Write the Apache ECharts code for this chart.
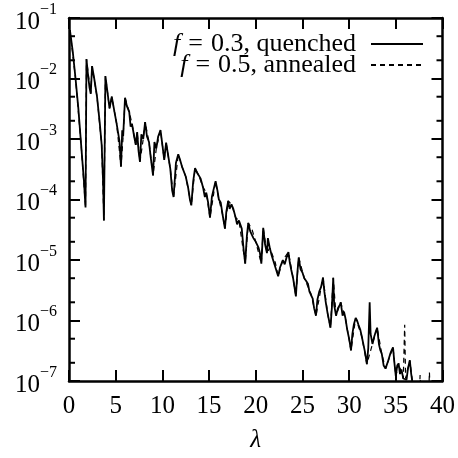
<!DOCTYPE html>
<html>
<head>
<meta charset="utf-8">
<script src="https://cdn.jsdelivr.net/npm/echarts@6/dist/echarts.min.js"></script>
<style>
  html, body {margin: 0; padding: 0; background: #fff;}
  #chart {width: 458px; height: 458px;}
</style>
</head>
<body>
<div id="chart"></div>
<script>
// DATA
const series_names = ["f = 0.3, quenched", "f = 0.5, annealed"];

// [lambda, value]
const quenched_points = [
  [0.1, 6.3e-2], [0.4, 2.8e-2], [0.7, 1.0e-2], [1.0, 3.2e-3], [1.3, 8.0e-4], [1.6, 2.0e-4],
  [1.77, 7.4e-5], [1.87, 2.1e-2], [2.05, 1.1e-2], [2.2, 7.0e-3], [2.33, 5.6e-3], [2.47, 1.6e-2],
  [2.7, 1.0e-2], [3.0, 5.0e-3], [3.3, 1.8e-3], [3.5, 8.0e-4], [3.65, 2.0e-4], [3.74, 4.5e-5],
  [3.9, 1.1e-2], [4.1, 6.3e-3], [4.34, 3.2e-3], [4.58, 5.0e-3], [4.87, 2.8e-3], [5.1, 1.8e-3],
  [5.4, 9.3e-4], [5.57, 3.5e-4], [5.7, 1.4e-3], [5.8, 1.1e-3], [6.0, 4.8e-3], [6.2, 3.5e-3],
  [6.45, 2.8e-3], [6.6, 1.6e-3], [6.74, 1.8e-3], [6.98, 1.1e-3], [7.15, 8.0e-4], [7.3, 1.3e-3],
  [7.45, 6.3e-4], [7.6, 4.2e-4], [7.75, 1.2e-3], [7.95, 1.0e-3], [8.15, 1.9e-3], [8.35, 1.1e-3],
  [8.57, 8.9e-4], [8.75, 5.0e-4], [9.0, 2.5e-4], [9.15, 8.9e-4], [9.35, 7.0e-4], [9.55, 1.1e-3],
  [9.8, 1.4e-3], [10.0, 8.0e-4], [10.2, 4.5e-4], [10.4, 8.7e-4], [10.6, 5.6e-4], [10.85, 3.2e-4],
  [11.05, 1.4e-4], [11.2, 1.1e-4], [11.45, 4.0e-4], [11.7, 5.6e-4], [11.9, 4.5e-4], [12.1, 3.5e-4],
  [12.3, 3.6e-4], [12.5, 2.4e-4], [12.75, 1.6e-4], [12.95, 1.0e-4], [13.1, 8.0e-5], [13.3, 2.0e-4],
  [13.5, 3.3e-4], [13.7, 2.8e-4], [13.9, 2.5e-4], [14.1, 2.2e-4], [14.35, 1.6e-4], [14.55, 1.1e-4],
  [14.7, 1.3e-4], [14.9, 8.9e-5], [15.1, 5.0e-5], [15.3, 1.1e-4], [15.5, 1.5e-4], [15.7, 2.0e-4],
  [15.9, 1.4e-4], [16.05, 1.0e-4], [16.25, 8.9e-5], [16.45, 5.6e-5], [16.7, 3.3e-5], [16.85, 6.3e-5],
  [17.05, 9.5e-5], [17.2, 7.0e-5], [17.4, 8.3e-5], [17.6, 7.0e-5], [17.85, 5.0e-5], [18.0, 3.9e-5],
  [18.2, 4.5e-5], [18.5, 3.3e-5], [18.7, 1.5e-5], [18.87, 8.7e-6], [19.05, 2.5e-5], [19.2, 4.1e-5],
  [19.4, 3.0e-5], [19.6, 3.2e-5], [19.75, 2.3e-5], [20.0, 2.0e-5], [20.3, 1.6e-5], [20.45, 1.3e-5],
  [20.6, 8.7e-6], [20.8, 3.4e-5], [21.0, 1.8e-5], [21.2, 1.3e-5], [21.3, 2.3e-5], [21.5, 1.6e-5],
  [21.7, 1.2e-5], [21.9, 9.5e-6], [22.1, 9.0e-6], [22.4, 5.4e-6], [22.6, 7.5e-6], [22.9, 1.0e-5],
  [23.1, 8.5e-6], [23.3, 1.1e-5], [23.5, 1.35e-5], [23.65, 9.0e-6], [23.8, 6.9e-6], [24.0, 5.0e-6],
  [24.3, 2.5e-6], [24.45, 6.0e-6], [24.6, 1.1e-5], [24.8, 7.0e-6], [25.0, 6.2e-6], [25.2, 5.0e-6],
  [25.4, 4.5e-6], [25.6, 4.0e-6], [25.75, 3.0e-6], [25.9, 2.8e-6], [26.1, 2.3e-6], [26.25, 1.6e-6],
  [26.45, 1.2e-6], [26.6, 2.2e-6], [26.8, 3.0e-6], [27.0, 3.6e-6], [27.2, 5.1e-6], [27.35, 3.0e-6],
  [27.5, 2.0e-6], [27.7, 1.3e-6], [27.85, 1.0e-6], [28.0, 7.6e-7], [28.15, 1.6e-6], [28.3, 5.1e-6],
  [28.4, 1.8e-6], [28.6, 1.2e-6], [28.8, 1.6e-6], [29.0, 1.8e-6], [29.1, 2.0e-6], [29.3, 1.2e-6],
  [29.45, 1.4e-6], [29.6, 1.1e-6], [29.8, 7.0e-7], [30.0, 5.0e-7], [30.2, 3.2e-7], [30.35, 6.0e-7],
  [30.5, 8.5e-7], [30.7, 1.1e-6], [30.85, 1.0e-6], [31.0, 8.5e-7], [31.2, 7.0e-7], [31.35, 5.5e-7],
  [31.5, 5.2e-7], [31.7, 3.0e-7], [31.9, 1.9e-7], [32.05, 3.5e-7], [32.2, 2.0e-6], [32.3, 6.0e-7],
  [32.5, 4.1e-7], [32.7, 5.5e-7], [32.85, 6.5e-7], [33.0, 7.6e-7], [33.2, 4.0e-7], [33.35, 3.2e-7],
  [33.5, 2.8e-7], [33.7, 1.8e-7], [33.9, 1.6e-7], [34.05, 1.5e-7], [34.2, 2.2e-7], [34.4, 2.8e-7],
  [34.55, 3.2e-7], [34.7, 3.6e-7], [34.85, 2.0e-7], [35.0, 1.2e-7], [35.15, 1.8e-7], [35.3, 1.95e-7],
  [35.45, 1.3e-7], [35.6, 1.55e-7], [35.8, 1.1e-7], [36.15, 1.05e-7], [36.3, 1.6e-7],
  [36.5, 2.2e-7], [36.65, 1.3e-7], [36.85, 8.0e-8], [37.2, 7.0e-8]
];

const annealed_points = [
  [0.1, 6.3e-2], [0.7, 1.0e-2], [1.3, 8.0e-4], [1.77, 7.4e-5], [1.87, 2.1e-2], [2.33, 5.6e-3],
  [2.47, 1.6e-2], [3.0, 5.0e-3], [3.5, 8.0e-4], [3.74, 4.5e-5], [3.9, 1.1e-2], [4.34, 3.2e-3],
  [4.58, 5.0e-3], [5.1, 1.8e-3], [5.57, 3.5e-4], [5.8, 1.1e-3], [6.0, 4.8e-3], [6.45, 2.8e-3],
  [6.74, 1.8e-3], [7.15, 8.0e-4], [7.3, 1.3e-3], [7.6, 4.2e-4], [7.95, 1.0e-3], [8.15, 1.9e-3],
  [8.57, 8.9e-4], [9.0, 2.5e-4], [9.35, 7.0e-4], [9.8, 1.4e-3], [10.2, 4.5e-4], [10.4, 8.7e-4],
  [10.85, 3.2e-4], [11.2, 1.1e-4], [11.7, 5.6e-4], [12.1, 3.5e-4], [12.5, 2.4e-4], [13.1, 8.0e-5],
  [13.5, 3.3e-4], [13.9, 2.5e-4], [14.35, 1.6e-4], [14.7, 1.3e-4], [15.1, 5.0e-5], [15.7, 2.0e-4],
  [16.05, 1.0e-4], [16.45, 5.6e-5], [16.7, 3.3e-5], [17.05, 9.5e-5], [17.4, 8.3e-5], [17.85, 5.0e-5],
  [18.2, 4.5e-5], [18.87, 8.7e-6], [19.2, 4.1e-5], [19.6, 3.2e-5], [20.0, 2.0e-5], [20.6, 8.7e-6],
  [20.8, 3.4e-5], [21.2, 1.3e-5], [21.5, 1.6e-5], [22.1, 9.0e-6], [22.4, 5.4e-6], [22.9, 1.0e-5],
  [23.5, 1.35e-5], [24.0, 5.0e-6], [24.3, 2.5e-6], [24.6, 1.1e-5], [25.2, 5.0e-6], [25.9, 2.8e-6],
  [26.45, 1.2e-6], [27.2, 5.1e-6], [27.7, 1.3e-6], [28.0, 7.6e-7], [28.3, 5.1e-6], [28.6, 1.2e-6],
  [29.1, 2.0e-6], [29.6, 1.1e-6], [30.2, 3.2e-7], [30.7, 1.1e-6], [31.35, 5.5e-7], [31.9, 1.9e-7],
  [32.5, 4.1e-7], [33.0, 7.6e-7], [33.5, 2.8e-7], [33.9, 1.6e-7], [34.7, 3.6e-7], [35.0, 1.2e-7],
  [35.3, 1.95e-7], [35.8, 1.1e-7], [35.95, 8.5e-7], [36.05, 1.1e-7], [36.5, 2.2e-7], [36.85, 8.0e-8],
  [37.5, 5.0e-8], [37.6, 1.25e-7], [37.7, 5.0e-8], [38.5, 5.0e-8], [38.6, 1.4e-7], [38.7, 5.0e-8]
];

// minor ticks at 2 and 5 of each decade
const minor_tick_values = [2e-7, 5e-7, 2e-6, 5e-6, 2e-5, 5e-5, 2e-4, 5e-4, 2e-3, 5e-3, 2e-2, 5e-2];

const x_min = 0, x_max = 40, x_step = 5;
const y_min = 1e-7, y_max = 1e-1;

const font = "Liberation Serif";
const sup = {"-1": "−1", "-2": "−2", "-3": "−3", "-4": "−4", "-5": "−5", "-6": "−6", "-7": "−7"};

function logLabel(v){
  const e = Math.round(Math.log10(v));
  return "{b|10}{s|" + (sup[e] || e) + "}";
}

// "f = 0.3, quenched" -> italic f, wide math spacing round "="
function legendLabel(name){
  const rest = name.slice(name.indexOf("=") + 1).trim();
  return "{i|f}{eq|=}{t|" + rest + "}";
}

const axis_line = {show: true, onZero: false, lineStyle: {color: "#000", width: 2.5}};
const major_tick = {show: true, inside: true, length: 11, lineStyle: {color: "#000", width: 2}};

const legend_txt = {fontFamily: font, fontSize: 26, color: "#000", lineHeight: 21};

const chart = echarts.init(document.getElementById("chart"), null, {renderer: "canvas"});

chart.setOption({
  animation: false,
  backgroundColor: "#fff",
  textStyle: {fontFamily: font},
  grid: {left: 69, right: 11, top: 18, bottom: 64},
  legend: {
    show: true,
    data: series_names,
    orient: "vertical",
    right: 29, top: 26,
    align: "right",
    itemWidth: 52, itemHeight: 14, itemGap: -5,
    itemStyle: {opacity: 0},
    formatter: legendLabel,
    textStyle: {
      ...legend_txt, padding: [0, 10, 0, 0],
      rich: {
        i: {...legend_txt, fontStyle: "italic"},
        eq: {...legend_txt, padding: [0, 8, 0, 8]},
        t: legend_txt
      }
    }
  },
  xAxis: [
    {
      type: "value", min: x_min, max: x_max, interval: x_step,
      name: "λ", nameLocation: "middle", nameGap: 47,
      nameTextStyle: {fontFamily: font, fontStyle: "italic", fontSize: 25, color: "#000"},
      axisLine: axis_line, axisTick: major_tick, splitLine: {show: false},
      axisLabel: {fontFamily: font, fontSize: 25, color: "#000", margin: 13}
    },
    {
      type: "value", position: "top", min: x_min, max: x_max, interval: x_step,
      axisLine: axis_line, axisTick: major_tick, splitLine: {show: false},
      axisLabel: {show: false}
    }
  ],
  yAxis: [
    {
      type: "log", logBase: 10, min: y_min, max: y_max, splitNumber: 6,
      axisLine: axis_line, axisTick: major_tick, splitLine: {show: false},
      axisLabel: {
        margin: 12, formatter: logLabel,
        rich: {
          b: {fontFamily: font, fontSize: 25, color: "#000", verticalAlign: "bottom", padding: [8, 0, 0, 0]},
          s: {fontFamily: font, fontSize: 16, color: "#000", verticalAlign: "top", padding: [0, 0, 8, 0]}
        }
      }
    },
    {
      type: "log", logBase: 10, min: y_min, max: y_max, splitNumber: 6, position: "right",
      axisLine: axis_line, axisTick: major_tick, splitLine: {show: false},
      axisLabel: {show: false}
    }
  ],
  series: [
    {
      name: series_names[0], type: "line", data: quenched_points,
      showSymbol: false, symbol: "none", clip: true,
      lineStyle: {color: "#000", width: 1.8, type: "solid"},
      itemStyle: {color: "#000"}
    },
    {
      name: series_names[1], type: "line", data: annealed_points,
      showSymbol: false, symbol: "none", clip: true,
      lineStyle: {color: "#000", width: 1.2, type: [5, 4]},
      itemStyle: {color: "#000"}
    },
    {
      type: "custom", silent: true, clip: false,
      data: minor_tick_values.map((v) => [v]),
      encode: {y: 0},
      renderItem: (params, api) => {
        const v = api.value(0);
        const left = api.coord([x_min, v]);
        const right = api.coord([x_max, v]);
        const st = {stroke: "#000", lineWidth: 2};
        return {
          type: "group",
          children: [
            {type: "line", shape: {x1: left[0], y1: left[1], x2: left[0] + 6, y2: left[1]}, style: st},
            {type: "line", shape: {x1: right[0] - 6, y1: right[1], x2: right[0], y2: right[1]}, style: st}
          ]
        };
      }
    }
  ]
});
</script>
</body>
</html>
